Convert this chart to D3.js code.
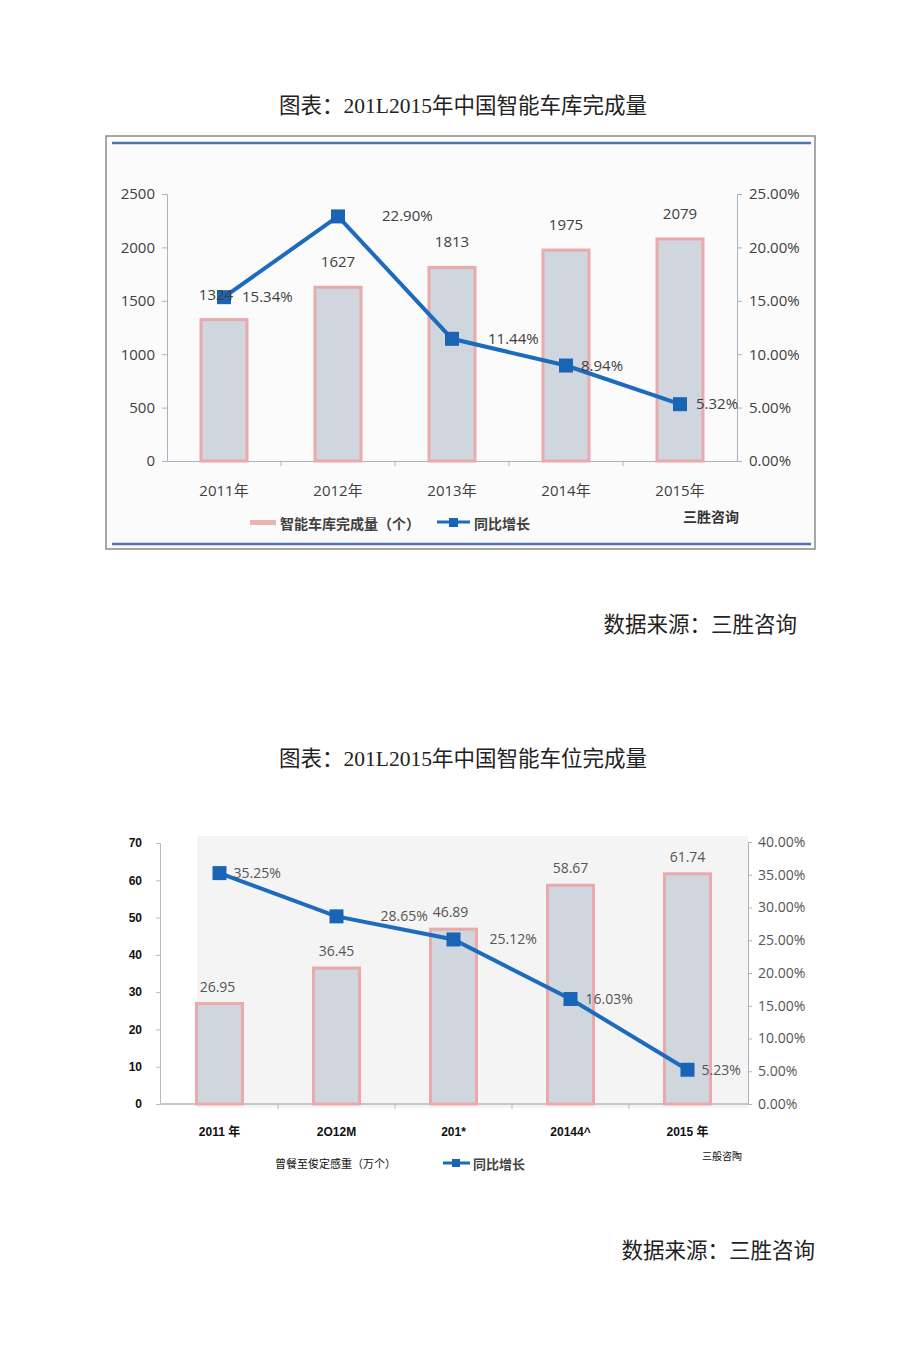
<!DOCTYPE html>
<html><head><meta charset="utf-8">
<script src="https://cdn.jsdelivr.net/npm/d3@7"></script>
<style>
body{margin:0;background:#fff;}
svg{display:block;}
</style></head>
<body>
<svg id="c" width="920" height="1361"></svg>
<script>
// ---- Data ----
const years1 = ["2011年","2012年","2013年","2014年","2015年"];
const garageCount = [1324, 1627, 1813, 1975, 2079];
const garageGrowth = [0.1534, 0.2290, 0.1144, 0.0894, 0.0532];
const garageLeftTicks = [0, 500, 1000, 1500, 2000, 2500];
const garageRightTicks = [0, 0.05, 0.10, 0.15, 0.20, 0.25];

const years2 = ["2011 年","2O12M","201*","20144^","2015 年"];
const spaceCount = [26.95, 36.45, 46.89, 58.67, 61.74];
const spaceGrowth = [0.3525, 0.2865, 0.2512, 0.1603, 0.0523];
const spaceLeftTicks = [0, 10, 20, 30, 40, 50, 60, 70];
const spaceRightTicks = [0, 0.05, 0.10, 0.15, 0.20, 0.25, 0.30, 0.35, 0.40];

const svg = d3.select("#c");
const serif = "'Liberation Serif','Noto Sans CJK SC',serif";
const sans = "'Open Sans','Noto Sans CJK SC',sans-serif";
const arialB = "'Liberation Sans','Noto Sans CJK SC',sans-serif";
const pct = d3.format(".2%");
const barFill = "#cfd6de", barStroke = "#eaa9ab", lineCol = "#1c6bbd";

// ---- Titles ----
svg.append("text").attr("x",463).attr("y",113).attr("text-anchor","middle")
  .attr("font-family",serif).attr("font-size",21.5).attr("fill","#222").text("图表：201L2015年中国智能车库完成量");
svg.append("text").attr("x",797).attr("y",632).attr("text-anchor","end")
  .attr("font-family",serif).attr("font-size",21.5).attr("fill","#222").text("数据来源：三胜咨询");
svg.append("text").attr("x",463).attr("y",766).attr("text-anchor","middle")
  .attr("font-family",serif).attr("font-size",21.5).attr("fill","#222").text("图表：201L2015年中国智能车位完成量");
svg.append("text").attr("x",815).attr("y",1258).attr("text-anchor","end")
  .attr("font-family",serif).attr("font-size",21.5).attr("fill","#222").text("数据来源：三胜咨询");

// ================= Chart 1 =================
{
  const g = svg.append("g");
  g.append("rect").attr("x",106).attr("y",136).attr("width",709).attr("height",413)
    .attr("fill","#fbfbfb").attr("stroke","#8a8a8a").attr("stroke-width",1.5);
  g.append("line").attr("x1",112).attr("x2",811).attr("y1",143).attr("y2",143).attr("stroke","#4f74b5").attr("stroke-width",2.5);
  g.append("line").attr("x1",112).attr("x2",811).attr("y1",544).attr("y2",544).attr("stroke","#4f74b5").attr("stroke-width",2.5);

  const x = d3.scaleBand().domain(years1).range([167,737]);
  const yL = d3.scaleLinear().domain([0,2500]).range([461,194]);
  const yR = d3.scaleLinear().domain([0,0.25]).range([461,194]);

  const axL = g.append("g").attr("transform","translate(167,0)")
    .call(d3.axisLeft(yL).tickValues(garageLeftTicks).tickFormat(d3.format("d")).tickSize(5).tickPadding(7));
  const axR = g.append("g").attr("transform","translate(737,0)")
    .call(d3.axisRight(yR).tickValues(garageRightTicks).tickFormat(pct).tickSize(5).tickPadding(7));
  const axB = g.append("g").attr("transform","translate(0,461)")
    .call(d3.axisBottom(x).tickSize(0).tickPadding(24));
  [axL,axR,axB].forEach(a=>{
    a.selectAll("path,line").attr("stroke","#a9b3c0");
    a.selectAll("text").attr("font-family",sans).attr("font-size",15).attr("fill","#404040");
  });
  g.selectAll(".bt").data(years1.slice(1)).join("line")
    .attr("x1",d=>x(d)).attr("x2",d=>x(d)).attr("y1",461).attr("y2",466).attr("stroke","#a9b3c0");

  const bw = 46;
  const cx = (d,i)=>x(years1[i])+x.bandwidth()/2;
  g.selectAll(".bar").data(garageCount).join("rect")
    .attr("x",(d,i)=>cx(d,i)-bw/2).attr("width",bw)
    .attr("y",d=>yL(d)).attr("height",d=>yL(0)-yL(d))
    .attr("fill",barFill).attr("stroke",barStroke).attr("stroke-width",3);

  g.append("path").datum(garageGrowth)
    .attr("d",d3.line().x(cx).y(d=>yR(d))).attr("fill","none").attr("stroke",lineCol).attr("stroke-width",4);
  g.selectAll(".mk").data(garageGrowth).join("rect")
    .attr("x",(d,i)=>cx(d,i)-7).attr("y",d=>yR(d)-7).attr("width",14).attr("height",14).attr("fill","#1a64b5");

  const bOff1 = [-8, 0, 0, 0, 0];
  g.selectAll(".bl").data(garageCount).join("text")
    .attr("x",(d,i)=>cx(d,i)+bOff1[i]).attr("y",d=>yL(d)-20)
    .attr("text-anchor","middle").attr("font-family",sans).attr("font-size",15).attr("fill","#404040").text(d=>d);
  const offs1 = [18, 44, 36, 15, 16];
  g.selectAll(".pl").data(garageGrowth).join("text")
    .attr("x",(d,i)=>cx(d,i)+offs1[i]).attr("y",d=>yR(d)+5)
    .attr("font-family",sans).attr("font-size",15).attr("fill","#404040").text(d=>pct(d));

  // legend
  g.append("rect").attr("x",250).attr("y",520).attr("width",26).attr("height",5).attr("fill","#e8b4b6");
  g.append("text").attr("x",280).attr("y",529).attr("font-family",sans).attr("font-size",14).attr("font-weight","bold").attr("fill","#404040").text("智能车库完成量（个）");
  g.append("line").attr("x1",437).attr("x2",470).attr("y1",522).attr("y2",522).attr("stroke",lineCol).attr("stroke-width",3);
  g.append("rect").attr("x",449).attr("y",518).attr("width",9).attr("height",9).attr("fill","#1a64b5");
  g.append("text").attr("x",474).attr("y",529).attr("font-family",sans).attr("font-size",14).attr("font-weight","bold").attr("fill","#404040").text("同比增长");
  g.append("text").attr("x",683).attr("y",522).attr("font-family",sans).attr("font-size",14).attr("font-weight","bold").attr("fill","#333").text("三胜咨询");
}

// ================= Chart 2 =================
{
  const g = svg.append("g");
  g.append("rect").attr("x",197).attr("y",836).attr("width",551).attr("height",272).attr("fill","#f4f4f4");

  const x = d3.scaleBand().domain(years2).range([161,746]);
  const yL = d3.scaleLinear().domain([0,70]).range([1104,843]);
  const yR = d3.scaleLinear().domain([0,0.40]).range([1104,842]);

  const axL = g.append("g").attr("transform","translate(160,0)")
    .call(d3.axisLeft(yL).tickValues(spaceLeftTicks).tickSize(4).tickPadding(14));
  axL.selectAll("path,line").attr("stroke","#bbb");
  axL.selectAll("text").attr("font-family",arialB).attr("font-size",12).attr("font-weight","bold").attr("fill","#111");

  const axR = g.append("g").attr("transform","translate(748,0)")
    .call(d3.axisRight(yR).tickValues(spaceRightTicks).tickFormat(pct).tickSize(4).tickPadding(6));
  axR.selectAll("path,line").attr("stroke","#a9b3c0");
  axR.selectAll("text").attr("font-family",sans).attr("font-size",14).attr("fill","#555");

  g.append("line").attr("x1",160).attr("x2",748).attr("y1",1104).attr("y2",1104).attr("stroke","#c3c8ce").attr("stroke-width",2);
  g.selectAll(".bt").data(years2.slice(1)).join("line")
    .attr("x1",d=>x(d)).attr("x2",d=>x(d)).attr("y1",1104).attr("y2",1109).attr("stroke","#bbb");

  const axB = g.append("g").attr("transform","translate(0,1104)")
    .call(d3.axisBottom(x).tickSize(0).tickPadding(23));
  axB.select("path").remove();
  axB.selectAll("text").attr("font-family",arialB).attr("font-size",12).attr("font-weight","bold").attr("fill","#111");

  const bw = 46;
  const cx = (d,i)=>x(years2[i])+x.bandwidth()/2;
  g.selectAll(".bar").data(spaceCount).join("rect")
    .attr("x",(d,i)=>cx(d,i)-bw/2).attr("width",bw)
    .attr("y",d=>yL(d)).attr("height",d=>yL(0)-yL(d))
    .attr("fill",barFill).attr("stroke",barStroke).attr("stroke-width",3);
  const bOffX = [-2, 0, -3, 0, 0];
  g.selectAll(".bl").data(spaceCount).join("text")
    .attr("x",(d,i)=>cx(d,i)+bOffX[i]).attr("y",d=>yL(d)-12)
    .attr("text-anchor","middle").attr("font-family",sans).attr("font-size",14).attr("fill","#555").text(d=>d);

  g.append("path").datum(spaceGrowth)
    .attr("d",d3.line().x(cx).y(d=>yR(d))).attr("fill","none").attr("stroke",lineCol).attr("stroke-width",4);
  g.selectAll(".mk").data(spaceGrowth).join("rect")
    .attr("x",(d,i)=>cx(d,i)-7).attr("y",d=>yR(d)-7).attr("width",14).attr("height",14).attr("fill","#1a64b5");
  const offs2 = [14, 44, 36, 15, 14];
  g.selectAll(".pl").data(spaceGrowth).join("text")
    .attr("x",(d,i)=>cx(d,i)+offs2[i]).attr("y",d=>yR(d)+5)
    .attr("font-family",sans).attr("font-size",14).attr("fill","#555").text(d=>pct(d));

  // legend
  g.append("text").attr("x",275).attr("y",1168).attr("font-family",sans).attr("font-size",11).attr("fill","#111").text("曾餐至俊定感重（万个）");
  g.append("line").attr("x1",443).attr("x2",470).attr("y1",1163).attr("y2",1163).attr("stroke",lineCol).attr("stroke-width",3);
  g.append("rect").attr("x",452).attr("y",1159).attr("width",8).attr("height",8).attr("fill","#1a64b5");
  g.append("text").attr("x",473).attr("y",1169).attr("font-family",sans).attr("font-size",13).attr("font-weight","bold").attr("fill","#444").text("同比增长");
  g.append("text").attr("x",702).attr("y",1160).attr("font-family",sans).attr("font-size",10).attr("fill","#111").text("三般咨陶");
}
</script>
</body></html>
